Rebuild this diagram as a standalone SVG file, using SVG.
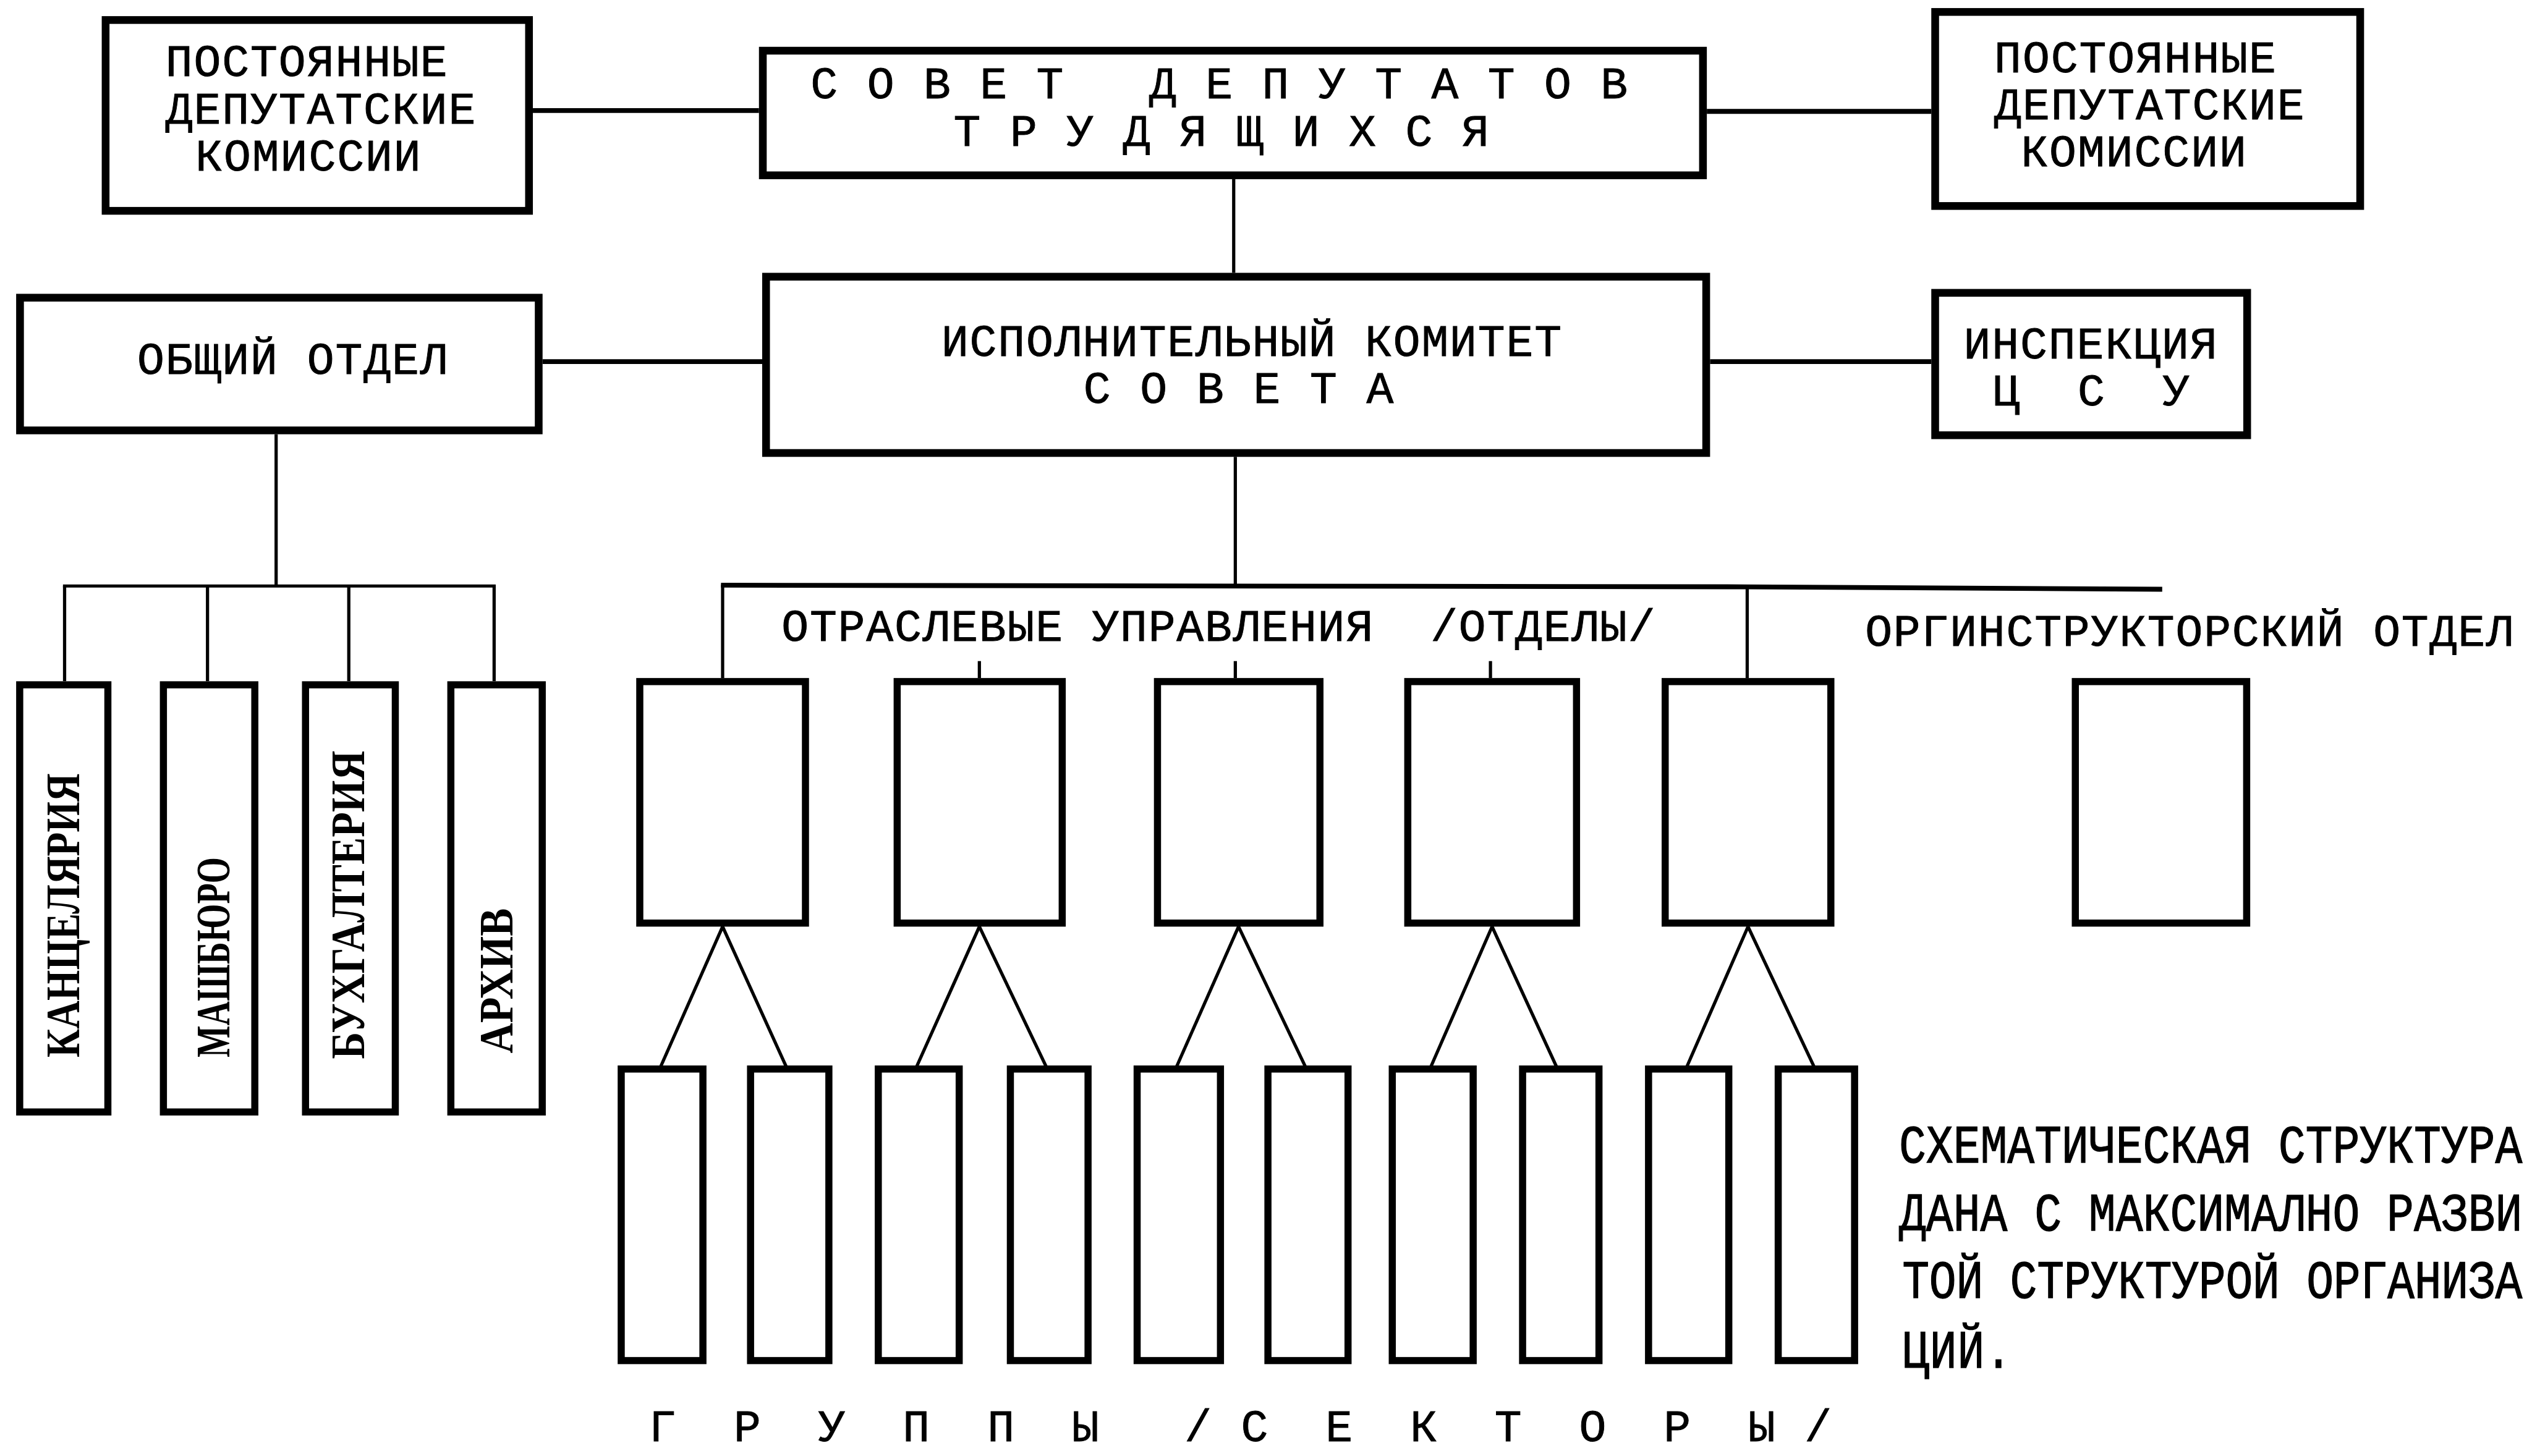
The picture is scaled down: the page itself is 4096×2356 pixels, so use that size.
<svg xmlns="http://www.w3.org/2000/svg" width="4096" height="2356" viewBox="0 0 4096 2356">
<style>
.bx{fill:#fff;stroke:#000;stroke-width:4.4;stroke-linejoin:miter}
.bt{fill:#fff;stroke:#000;stroke-width:4.8}
.ln{fill:none;stroke:#000;stroke-width:2;stroke-linecap:butt}
.lk{fill:none;stroke:#000;stroke-width:3}
.t{font-family:'Liberation Mono','DejaVu Sans Mono',monospace;font-size:28px;fill:#000;stroke:#000;stroke-width:0.35}
.n{font-family:'Liberation Mono','DejaVu Sans Mono',monospace;font-size:28px;fill:#000;stroke:#000;stroke-width:0.4}
.v{font-family:'Liberation Serif','DejaVu Serif',serif;font-weight:bold;font-size:30px;fill:#000}
</style>
<rect x="0" y="0" width="4096" height="2356" fill="#fff"/>
<g transform="scale(2.6122449)">
<g id="connectors">
<line class="lk" x1="330" y1="68.5" x2="470" y2="68.5"/>
<line class="lk" x1="1057" y1="69" x2="1196" y2="69"/>
<line class="ln" x1="764" y1="111" x2="764" y2="169"/>
<line class="lk" x1="336" y1="224" x2="472" y2="224"/>
<line class="lk" x1="1059" y1="224" x2="1196" y2="224"/>
<line class="ln" x1="171" y1="269" x2="171" y2="363"/>
<line class="ln" x1="39" y1="363" x2="307" y2="363"/>
<line class="ln" x1="40" y1="363" x2="40" y2="422"/>
<line class="ln" x1="128.5" y1="363" x2="128.5" y2="422"/>
<line class="ln" x1="216" y1="363" x2="216" y2="422"/>
<line class="ln" x1="306" y1="363" x2="306" y2="422"/>
<line class="ln" x1="765" y1="283" x2="765" y2="363"/>
<polyline class="lk" points="446.5,362.5 1082,363.5 1339,365"/>
<line class="ln" x1="447.5" y1="362" x2="447.5" y2="420"/>
<line class="ln" x1="1082" y1="363" x2="1082" y2="420"/>
<line class="ln" x1="606.5" y1="409.5" x2="606.5" y2="420"/>
<line class="ln" x1="765" y1="409.5" x2="765" y2="420"/>
<line class="ln" x1="923" y1="409.5" x2="923" y2="420"/>
<line class="ln" x1="447.5" y1="574" x2="409" y2="661"/>
<line class="ln" x1="447.5" y1="574" x2="487" y2="661"/>
<line class="ln" x1="606.5" y1="574" x2="567.5" y2="661"/>
<line class="ln" x1="606.5" y1="574" x2="648" y2="661"/>
<line class="ln" x1="767" y1="574" x2="728.5" y2="661"/>
<line class="ln" x1="767" y1="574" x2="808.5" y2="661"/>
<line class="ln" x1="924" y1="574" x2="886" y2="661"/>
<line class="ln" x1="924" y1="574" x2="964" y2="661"/>
<line class="ln" x1="1082.5" y1="574" x2="1044.5" y2="661"/>
<line class="ln" x1="1082.5" y1="574" x2="1123.5" y2="661"/>
</g>
<g id="n-post-left">
<rect class="bt" x="65.4" y="12.4" width="262.2" height="118.2"/>
<text class="t" x="102.5" y="47.2" textLength="174.5">ПОСТОЯННЫЕ</text>
<text class="t" x="102.5" y="76.4" textLength="192">ДЕПУТАТСКИЕ</text>
<text class="t" x="121" y="105.6" textLength="139.6">КОМИССИИ</text>
</g>
<g id="n-sovet">
<rect class="bt" x="472.4" y="31.4" width="582.2" height="77.2"/>
<text class="t" x="502" y="61" textLength="506" xml:space="preserve">С О В Е Т   Д Е П У Т А Т О В</text>
<text class="t" x="590.5" y="90.5" textLength="331.6" xml:space="preserve">Т Р У Д Я Щ И Х С Я</text>
</g>
<g id="n-post-right">
<rect class="bt" x="1198.4" y="7.4" width="263.2" height="120.2"/>
<text class="t" x="1235" y="44.6" textLength="174.5">ПОСТОЯННЫЕ</text>
<text class="t" x="1235" y="73.8" textLength="192">ДЕПУТАТСКИЕ</text>
<text class="t" x="1251.5" y="103" textLength="139.6">КОМИССИИ</text>
</g>
<g id="n-obshiy">
<rect class="bt" x="12.4" y="184.4" width="321.2" height="82.2"/>
<text class="t" x="85" y="231.5" textLength="192">ОБЩИЙ ОТДЕЛ</text>
</g>
<g id="n-ispolkom">
<rect class="bt" x="474.4" y="171.4" width="582.2" height="109.2"/>
<text class="t" x="583" y="220.4" textLength="384">ИСПОЛНИТЕЛЬНЫЙ КОМИТЕТ</text>
<text class="t" x="671" y="249.6" textLength="192" xml:space="preserve">С О В Е Т А</text>
</g>
<g id="n-inspekciya">
<rect class="bt" x="1198.4" y="181.4" width="193.2" height="88.2"/>
<text class="t" x="1216" y="221.9" textLength="157">ИНСПЕКЦИЯ</text>
<text class="t" x="1234" y="251.1" textLength="122" xml:space="preserve">Ц  С  У</text>
</g>
<g id="n-kanc">
<rect class="bx" x="12.2" y="424.2" width="54.6" height="264.6"/>
<text class="v" transform="translate(49,655) rotate(-90)" textLength="176" lengthAdjust="spacingAndGlyphs">КАНЦЕЛЯРИЯ</text>
</g>
<g id="n-mashburo">
<rect class="bx" x="101.2" y="424.2" width="56.6" height="264.6"/>
<text class="v" transform="translate(142,655) rotate(-90)" textLength="124" lengthAdjust="spacingAndGlyphs">МАШБЮРО</text>
</g>
<g id="n-buh">
<rect class="bx" x="189.2" y="424.2" width="55.6" height="264.6"/>
<text class="v" transform="translate(225.5,656) rotate(-90)" textLength="191" lengthAdjust="spacingAndGlyphs">БУХГАЛТЕРИЯ</text>
</g>
<g id="n-arhiv">
<rect class="bx" x="279.2" y="424.2" width="56.6" height="264.6"/>
<text class="v" transform="translate(317.5,652.5) rotate(-90)" textLength="90" lengthAdjust="spacingAndGlyphs">АРХИВ</text>
</g>
<g id="label-otrasl">
<text class="t" x="484" y="397" textLength="541" xml:space="preserve">ОТРАСЛЕВЫЕ УПРАВЛЕНИЯ  /ОТДЕЛЫ/</text>
</g>
<g id="n-ud1"><rect class="bx" x="396.2" y="422.2" width="102.6" height="149.6"/></g>
<g id="n-ud2"><rect class="bx" x="555.6" y="422.2" width="102.2" height="149.6"/></g>
<g id="n-ud3"><rect class="bx" x="716.8" y="422.2" width="100.6" height="149.6"/></g>
<g id="n-ud4"><rect class="bx" x="871.8" y="422.2" width="104.5" height="149.6"/></g>
<g id="n-ud5"><rect class="bx" x="1031.2" y="422.2" width="102.6" height="149.6"/></g>
<g id="n-org">
<text class="t" x="1155" y="400" textLength="401.4">ОРГИНСТРУКТОРСКИЙ ОТДЕЛ</text>
<rect class="bx" x="1285.2" y="422.2" width="106.1" height="149.6"/>
</g>
<g id="n-g1"><rect class="bx" x="384.7" y="662.2" width="50.6" height="180.6"/></g>
<g id="n-g2"><rect class="bx" x="464.8" y="662.2" width="48.5" height="180.6"/></g>
<g id="n-g3"><rect class="bx" x="543.9" y="662.2" width="50.1" height="180.6"/></g>
<g id="n-g4"><rect class="bx" x="625.7" y="662.2" width="48.1" height="180.6"/></g>
<g id="n-g5"><rect class="bx" x="704.2" y="662.2" width="51.6" height="180.6"/></g>
<g id="n-g6"><rect class="bx" x="785.2" y="662.2" width="49.6" height="180.6"/></g>
<g id="n-g7"><rect class="bx" x="862.2" y="662.2" width="50.1" height="180.6"/></g>
<g id="n-g8"><rect class="bx" x="942.9" y="662.2" width="47.3" height="180.6"/></g>
<g id="n-g9"><rect class="bx" x="1020.9" y="662.2" width="49.7" height="180.6"/></g>
<g id="n-g10"><rect class="bx" x="1101.2" y="662.2" width="47.3" height="180.6"/></g>
<g id="label-groups">
<text class="t" y="892.6" x="402 428 454.4 480 506.7 533 559 585 611.4 637 663.8 700 733.6 768.5 795 820.8 847 873.2 899 925.5 952 977.9 1004 1030.2 1056 1082.6 1117.5">Г Р У П П Ы /С Е К Т О Р Ы/</text>
</g>
<g id="note">
<g transform="translate(1176,720) scale(1,1.2)"><text class="n" x="0" y="0" textLength="386">СХЕМАТИЧЕСКАЯ СТРУКТУРА</text></g>
<g transform="translate(1176,762) scale(1,1.2)"><text class="n" x="0" y="0" textLength="386">ДАНА С МАКСИМАЛНО РАЗВИ</text></g>
<g transform="translate(1178,804) scale(1,1.2)"><text class="n" x="0" y="0" textLength="384">ТОЙ СТРУКТУРОЙ ОРГАНИЗА</text></g>
<g transform="translate(1178,847) scale(1,1.2)"><text class="n" x="0" y="0" textLength="68">ЦИЙ.</text></g>
</g>
</g>
</svg>
